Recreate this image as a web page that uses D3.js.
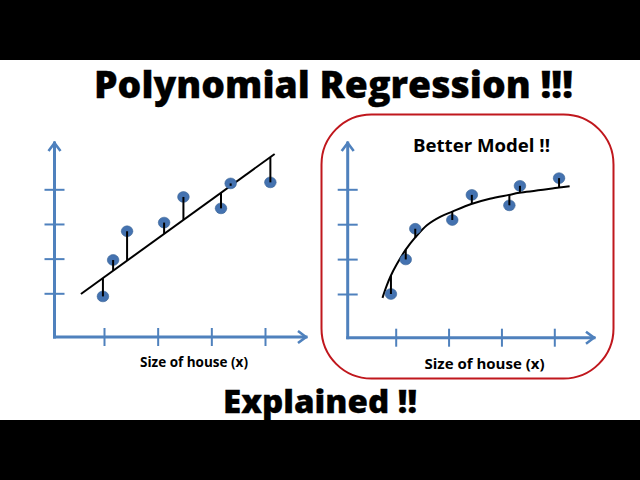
<!DOCTYPE html>
<html>
<head>
<meta charset="utf-8">
<script src="https://cdn.jsdelivr.net/npm/d3@7"></script>
<style>
  html, body { margin: 0; padding: 0; background: #000; overflow: hidden; }
  text { font-family: "Open Sans", sans-serif; font-weight: 700; fill: #000; }
  text.heavy { font-weight: 800; stroke: #000; stroke-width: 0.3px; }
</style>
</head>
<body>
<div id="chart"></div>
<script>
const xTicks = [1, 2, 3, 4];
const yTicks = [1, 2, 3, 4];

// left panel, straight fit
const leftX = [0.98, 1.17, 1.43, 2.12, 2.48, 3.18, 3.36, 4.1];
const leftY = [0.91, 1.96, 2.79, 3.04, 3.78, 3.45, 4.17, 4.2];
const leftFit = [1.44, 1.65, 1.94, 2.71, 3.12, 3.9, 4.1, 4.93];
const leftLineX = [0.57, 4.18];
const leftLineY = [0.98, 5.02];

// right panel, polynomial fit
const rightX = [0.91, 1.19, 1.37, 2.07, 2.44, 3.15, 3.35, 4.09];
const rightY = [1.0, 1.99, 2.87, 3.12, 3.84, 3.54, 4.1, 4.32];
const rightFit = [1.53, 2.27, 2.62, 3.36, 3.58, 3.84, 3.9, 4.05];
const rightLineX = [0.75, 0.83, 0.91, 1.02, 1.19, 1.37, 1.59, 1.84, 2.07, 2.43, 2.78, 3.14, 3.34, 4.09, 4.29];
const rightLineY = [0.89, 1.24, 1.53, 1.85, 2.27, 2.62, 2.97, 3.21, 3.36, 3.58, 3.73, 3.84, 3.9, 4.05, 4.09];

const width = 640, height = 480;
const blue = "#4f81bd", dot = "#4472b0";

const svg = d3.select("#chart").append("svg")
  .attr("width", width)
  .attr("height", height)
  .style("display", "block");

svg.append("rect").attr("width", width).attr("height", height).attr("fill", "#000");
svg.append("rect").attr("y", 60).attr("width", width).attr("height", 360).attr("fill", "#fff");

const defs = svg.append("defs");
defs.append("marker")
  .attr("id", "arrow")
  .attr("viewBox", "-10 -8 12 16")
  .attr("refX", 0).attr("refY", 0)
  .attr("markerUnits", "userSpaceOnUse")
  .attr("markerWidth", 12).attr("markerHeight", 16)
  .attr("orient", "auto")
  .append("path")
  .attr("d", "M-8,-6 L0,0 L-8,6")
  .attr("fill", "none")
  .attr("stroke", blue)
  .attr("stroke-width", 2.6);

function drawPanel(p) {
  const x = d3.scaleLinear().domain([1, 4]).range(p.xRange);
  const y = d3.scaleLinear().domain([1, 4]).range(p.yRange);
  const g = svg.append("g");

  // ticks come from the d3 axes, then get stretched across the axis line
  const xAxis = g.append("g")
    .attr("transform", `translate(0,${p.originY})`)
    .call(d3.axisBottom(x).tickValues(xTicks).tickSize(9).tickFormat(""));
  xAxis.select(".domain").remove();
  xAxis.selectAll(".tick line")
    .attr("y1", -9).attr("y2", 9)
    .attr("stroke", blue).attr("stroke-width", 2);

  const yAxis = g.append("g")
    .attr("transform", `translate(${p.originX},0)`)
    .call(d3.axisLeft(y).tickValues(yTicks).tickSize(10).tickFormat(""));
  yAxis.select(".domain").remove();
  yAxis.selectAll(".tick line")
    .attr("x1", -10).attr("x2", 10)
    .attr("stroke", blue).attr("stroke-width", 2);

  g.append("path")
    .attr("d", d3.line()([[p.originX, p.originY], [p.rightX, p.originY]]))
    .attr("fill", "none")
    .attr("stroke", blue)
    .attr("stroke-width", 3)
    .attr("stroke-linecap", "square")
    .attr("marker-end", "url(#arrow)");
  g.append("path")
    .attr("d", d3.line()([[p.originX, p.originY], [p.originX, p.topY]]))
    .attr("fill", "none")
    .attr("stroke", blue)
    .attr("stroke-width", 3)
    .attr("stroke-linecap", "square")
    .attr("marker-end", "url(#arrow)");

  const line = d3.line()
    .x((d) => x(d[0]))
    .y((d) => y(d[1]))
    .curve(d3.curveCatmullRom.alpha(0.5));
  g.append("path")
    .attr("d", line(d3.zip(p.lineX, p.lineY)))
    .attr("fill", "none")
    .attr("stroke", "#000")
    .attr("stroke-width", 2);

  g.selectAll(".dot")
    .data(d3.zip(p.ptX, p.ptY))
    .join("ellipse")
    .attr("class", "dot")
    .attr("cx", (d) => x(d[0]))
    .attr("cy", (d) => y(d[1]))
    .attr("rx", 5.8)
    .attr("ry", 5.4)
    .attr("fill", dot)
    .attr("stroke", "#3a6496")
    .attr("stroke-width", 0.6);

  g.selectAll(".stem")
    .data(d3.zip(p.ptX, p.ptY, p.fit))
    .join("line")
    .attr("class", "stem")
    .attr("x1", (d) => x(d[0]))
    .attr("x2", (d) => x(d[0]))
    .attr("y1", (d) => y(d[1]))
    .attr("y2", (d) => y(d[2]))
    .attr("stroke", "#000")
    .attr("stroke-width", 2);

  g.append("text")
    .attr("x", p.labelX)
    .attr("y", p.labelY)
    .attr("text-anchor", "middle")
    .attr("font-size", p.labelSize)
    .text("Size of house (x)");
}

// red frame round the better model
svg.append("rect")
  .attr("x", 321.5).attr("y", 114.5)
  .attr("width", 292).attr("height", 264)
  .attr("rx", 50).attr("ry", 50)
  .attr("fill", "none")
  .attr("stroke", "#c0171d")
  .attr("stroke-width", 2);

drawPanel({
  xRange: [104, 265], yRange: [293.3, 189.3],
  originX: 54.5, originY: 337, topY: 143, rightX: 306,
  ptX: leftX, ptY: leftY, fit: leftFit, lineX: leftLineX, lineY: leftLineY,
  labelX: 194, labelY: 366.5, labelSize: 13.5,
});
drawPanel({
  xRange: [395.7, 554.3], yRange: [294, 189.3],
  originX: 347.7, originY: 337.7, topY: 143, rightX: 594,
  ptX: rightX, ptY: rightY, fit: rightFit, lineX: rightLineX, lineY: rightLineY,
  labelX: 484.5, labelY: 368.5, labelSize: 15,
});

svg.append("text").attr("class", "heavy").attr("x", 94).attr("y", 97.5).attr("font-size", 37)
  .attr("textLength", 479).attr("lengthAdjust", "spacingAndGlyphs").text("Polynomial Regression !!!");
svg.append("text").attr("x", 413).attr("y", 151.5).attr("font-size", 18)
  .attr("textLength", 137).attr("lengthAdjust", "spacingAndGlyphs").text("Better Model !!");
svg.append("text").attr("class", "heavy").attr("x", 223).attr("y", 412.5).attr("font-size", 31)
  .attr("textLength", 194).attr("lengthAdjust", "spacingAndGlyphs").text("Explained !!");
</script>
</body>
</html>
